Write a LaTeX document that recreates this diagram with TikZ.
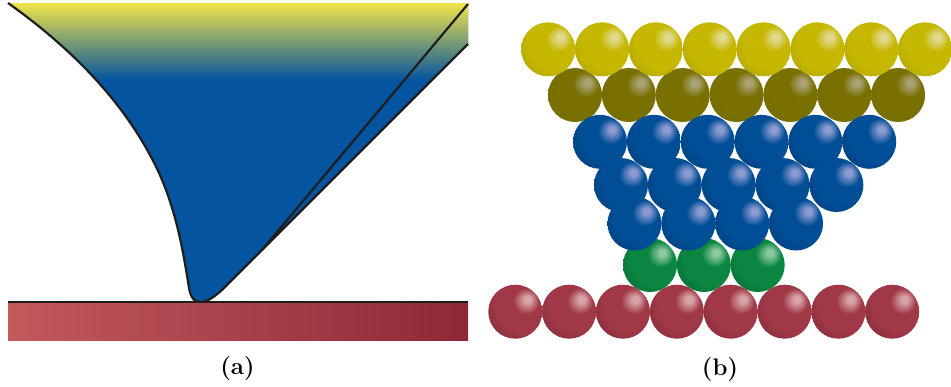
\documentclass[tikz,border=0pt]{standalone}
\usepackage{fontspec}
\usetikzlibrary{calc}

% colours of the probe, sample and atoms
\definecolor{tipyellow}{HTML}{F0E448}
\definecolor{tipmid}{HTML}{8F9378}
\definecolor{tipblue}{HTML}{0454A0}
\definecolor{edgeline}{HTML}{1E1E1E}
\definecolor{sampleleft}{HTML}{C25A5C}
\definecolor{sampleright}{HTML}{8E2838}

\definecolor{yHL}{HTML}{E0D88C}\definecolor{yBody}{HTML}{C6B800}\definecolor{yEdge}{HTML}{9A9000}
\definecolor{oHL}{HTML}{A8A274}\definecolor{oBody}{HTML}{787000}\definecolor{oEdge}{HTML}{726A00}
\definecolor{bHL}{HTML}{8C9AD2}\definecolor{bBody}{HTML}{004E96}\definecolor{bEdge}{HTML}{002C64}
\definecolor{gHL}{HTML}{8CC8A0}\definecolor{gBody}{HTML}{0A8640}\definecolor{gEdge}{HTML}{045428}
\definecolor{rHL}{HTML}{D8A4A8}\definecolor{rBody}{HTML}{A03848}\definecolor{rEdge}{HTML}{681C2C}

% sphere shading with the light spot up and to the right
\newcommand\declareatomshading[4]{%
  \pgfdeclareradialshading{#1}{\pgfpoint{12bp}{12bp}}{%
    color(0bp)=(#2); color(3bp)=(#2); color(12bp)=(#3); color(26bp)=(#3);
    color(50bp)=(#4); color(66bp)=(#4!80!black)}}
\declareatomshading{atomY}{yHL}{yBody}{yEdge}
\declareatomshading{atomO}{oHL}{oBody}{oEdge}
\declareatomshading{atomB}{bHL}{bBody}{bEdge}
\declareatomshading{atomG}{gHL}{gBody}{gEdge}
\declareatomshading{atomR}{rHL}{rBody}{rEdge}

\tikzset{
  outline/.style={draw=edgeline, line width=2.2pt, line join=round},
  caption/.style={inner sep=0pt, font=\fontsize{24}{28}\selectfont\bfseries},
}

% one row of touching atoms: shading, first centre x, centre y, count
\newcommand\atomrow[4]{%
  \foreach \k in {1,...,#4}{%
    \shade[shading=#1] ({#2+(\k-1)*53.85},#3) circle[radius=27pt];}}

\begin{document}
\begin{tikzpicture}[x=1pt,y=-1pt]
\useasboundingbox (0,0) rectangle (951,386);

% ---------- (a) continuum picture ----------
\coordinate (tl) at (8,3);
\coordinate (tr) at (468,3);
\coordinate (rr) at (468,44);
\coordinate (meet) at (262,250);
\coordinate (apex) at (200,302);

\begin{scope}
  \clip (tl) .. controls (60,40) and (115,90) .. (150,155)
        .. controls (175,200) and (183,250) .. (189,288)
        .. controls (191,299) and (195,302) .. (apex)
        .. controls (206,302) and (212,299) .. (222,290)
        -- (meet) -- (rr) -- (tr) -- cycle;
  \fill[tipblue] (0,0) rectangle (470,305);
  \shade[top color=tipyellow, middle color=tipmid, bottom color=tipblue]
        (0,3) rectangle (470,80);
\end{scope}

% sample
\shade[left color=sampleleft, right color=sampleright] (8,303) rectangle (468,340);
\coordinate (sl) at (8,302);
\coordinate (sr) at (468,302);
\draw[outline, line width=2pt] (sl) -- (sr);

% probe outline
\draw[outline] (rr) -- (meet) -- (222,290)
      .. controls (212,299) and (206,302) .. (apex)
      .. controls (195,302) and (191,299) .. (189,288)
      .. controls (183,250) and (175,200) .. (150,155)
      .. controls (115,90) and (60,40) .. (tl);
\draw[outline] (468,4) -- (meet);

\node[caption] (capa) at (237.5,369) {(a)};

% ---------- (b) atomistic picture ----------
\atomrow{atomR}{515.3}{311.7}{8}
\atomrow{atomG}{650}{265}{3}
\atomrow{atomO}{575}{95}{7}
\atomrow{atomY}{548.2}{49.3}{8}
\atomrow{atomB}{600}{141.8}{6}
\atomrow{atomB}{621}{185}{5}
\atomrow{atomB}{634.5}{223.5}{4}

\node[caption] (capb) at (720,369.5) {(b)};
\end{tikzpicture}
\end{document}
